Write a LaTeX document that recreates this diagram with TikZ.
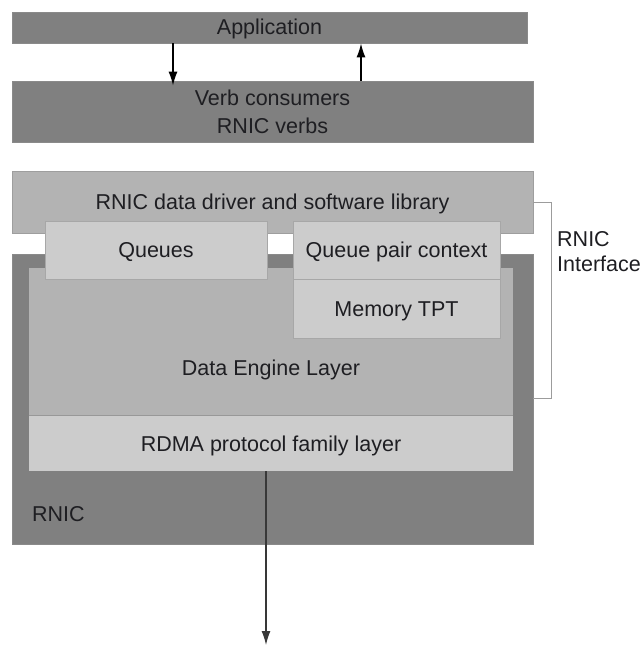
\documentclass[tikz,border=0pt]{standalone}
\usepackage{fontspec}
\setmainfont{Liberation Sans}
\usetikzlibrary{arrows.meta,positioning}
\definecolor{rnicdark}{HTML}{808080}
\definecolor{rnicmid}{HTML}{B3B3B3}
\definecolor{rniclight}{HTML}{CCCCCC}
\definecolor{rnictext}{HTML}{1E1E22}
\definecolor{rnicline}{HTML}{9C9C9C}
\begin{document}
\begin{tikzpicture}[x=1pt,y=-1pt,>={Latex[length=14pt,width=9pt]},
  layer/.style={rectangle,inner sep=0pt,line width=0.8pt,text=rnictext,
    font=\fontsize{21.5}{28}\selectfont,text height=15pt,text depth=0pt},
  darkbox/.style={layer,fill=rnicdark,draw=rnicdark!92!white},
  midbox/.style={layer,fill=rnicmid,draw=rnicmid!88!black},
  lightbox/.style={layer,fill=rniclight,draw=rniclight!82!black},
  lbl/.style={text=rnictext,inner sep=0pt,font=\fontsize{21.5}{25}\selectfont}]
\useasboundingbox (0,0) rectangle (643,660);

\node[darkbox,minimum width=515,minimum height=31] (app) at (269.5,27.5) {Application};
\node[darkbox,minimum width=521,minimum height=61,align=center,text height=,text depth=] (verb) at (272.5,111.5) {Verb consumers\\RNIC verbs};

\node[darkbox,minimum width=521,minimum height=290] (rnic) at (272.5,399) {};
\node[midbox,minimum width=484,minimum height=148,draw=none] (dataeng) at (271,342) {};
\node[lightbox,minimum width=484,minimum height=55,draw=none] (rdma) at (271,443.5) {RDMA protocol family layer};
\draw[rnicmid!85!black,line width=0.8pt] (rdma.north west) -- (rdma.north east);
\node[lbl,text height=15pt,text depth=0pt] at (271,368) {Data Engine Layer};
\node[lbl,anchor=west,text height=15pt,text depth=0pt] at (32,514) {RNIC};

\node[midbox,minimum width=521,minimum height=62] (driver) at (272.5,202) {RNIC data driver and software library};
\node[lightbox,minimum width=222,minimum height=58] (queues) at (156,250) {Queues};
\node[lightbox,minimum width=207,minimum height=58] (qpc) at (396.5,250) {Queue pair context};
\node[lightbox,minimum width=207,minimum height=59,below=0pt of qpc] (memtpt) {Memory TPT};

% verbs <-> application
\coordinate (dn) at (173,0);
\coordinate (up) at (361,0);
\draw[->,line width=1.3pt] (dn |- app.south) -- ([yshift=-5pt]dn |- verb.north);
\draw[->,line width=1.3pt] (up |- verb.north) -- (up |- app.south);

% interface bracket
\coordinate (bt) at (551,203);
\coordinate (bb) at (551,398);
\draw[rnicline,line width=1pt] (driver.east |- bt) -- (bt) -- (bb) -- (rnic.east |- bb);
\node[lbl,anchor=west,align=left] (iface) at (557,252) {RNIC\\Interface};

% to the wire
\coordinate (wire) at (266,645);
\draw[->,line width=1.3pt,black!78] (wire |- rdma.south) -- (wire);

\end{tikzpicture}
\end{document}
